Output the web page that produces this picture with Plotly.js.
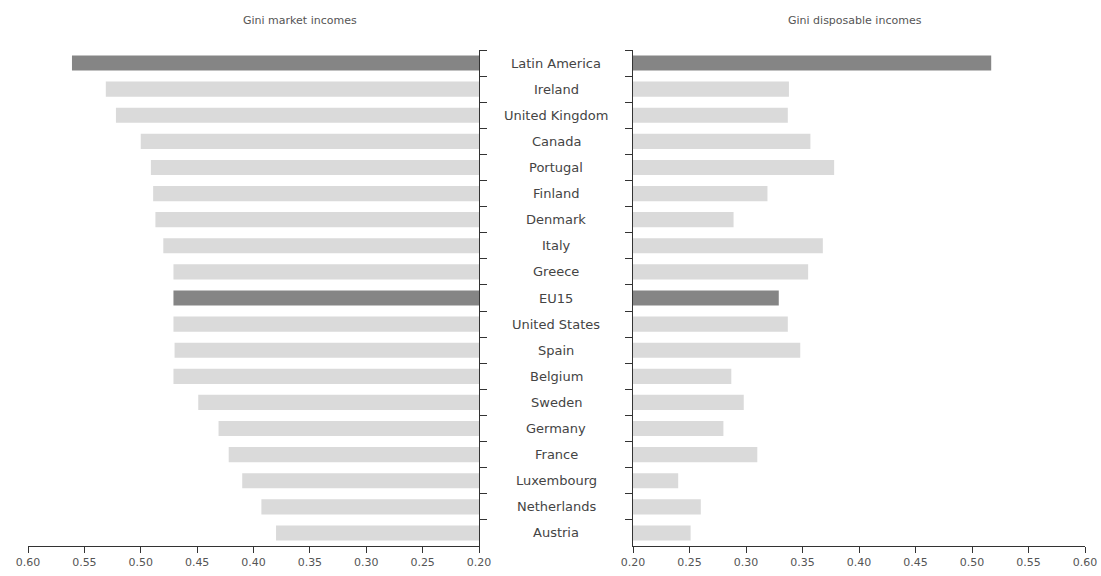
<!DOCTYPE html>
<html>
<head>
<meta charset="utf-8">
<script src="https://cdn.plot.ly/plotly-3.0.1.min.js"></script>
<style>html,body{margin:0;padding:0;background:#fff;}#chart{width:1101px;height:576px;}</style>
</head>
<body>
<div id="chart"></div>
<script>
var countries = ["Latin America","Ireland","United Kingdom","Canada","Portugal","Finland","Denmark","Italy","Greece","EU15","United States","Spain","Belgium","Sweden","Germany","France","Luxembourg","Netherlands","Austria"];
var giniMarket = [0.561,0.531,0.522,0.500,0.491,0.489,0.487,0.480,0.471,0.471,0.471,0.470,0.471,0.449,0.431,0.422,0.410,0.393,0.380];
var giniDisposable = [0.517,0.338,0.337,0.357,0.378,0.319,0.289,0.368,0.355,0.329,0.337,0.348,0.287,0.298,0.280,0.310,0.240,0.260,0.251];
var highlighted = ["Latin America","EU15"];
var xTickVals = [0.20,0.25,0.30,0.35,0.40,0.45,0.50,0.55,0.60];
var xTickText = ["0.20","0.25","0.30","0.35","0.40","0.45","0.50","0.55","0.60"];

var dark = "#858585", light = "#dadada";
var colors = countries.map(function(c){ return highlighted.indexOf(c) >= 0 ? dark : light; });

var traces = [
  {type:"bar", orientation:"h", y:countries, x:giniMarket.map(function(v){return v-0.2;}), base:0.2,
   marker:{color:colors}, xaxis:"x", yaxis:"y", hoverinfo:"x+y", width:0.58},
  {type:"bar", orientation:"h", y:countries, x:giniDisposable.map(function(v){return v-0.2;}), base:0.2,
   marker:{color:colors}, xaxis:"x2", yaxis:"y2", hoverinfo:"x+y", width:0.58}
];

var labelFont = {family:"DejaVu Sans, sans-serif", size:13, color:"#444"};
var annotations = countries.map(function(c){
  return {xref:"paper", yref:"y", x:556/1101, y:c, text:c, showarrow:false, font:labelFont, xanchor:"center", yanchor:"middle"};
});
annotations.push({xref:"paper", yref:"paper", x:300/1101, y:1, yshift:30, text:"Gini market incomes", showarrow:false,
  font:{family:"DejaVu Sans, sans-serif", size:11, color:"#555"}, xanchor:"center", yanchor:"middle"});
annotations.push({xref:"paper", yref:"paper", x:855/1101, y:1, yshift:30, text:"Gini disposable incomes", showarrow:false,
  font:{family:"DejaVu Sans, sans-serif", size:11, color:"#555"}, xanchor:"center", yanchor:"middle"});

var axisX = {
  range:[0.60,0.20], tickvals:xTickVals, ticktext:xTickText, showgrid:false, zeroline:false,
  showline:true, linecolor:"#333", linewidth:1, ticks:"outside", ticklen:6, tickcolor:"#333",
  tickfont:{family:"DejaVu Sans, sans-serif", size:11, color:"#555"}, fixedrange:true
};
var axisX2 = JSON.parse(JSON.stringify(axisX)); axisX2.range = [0.20,0.60];
axisX.domain = [28/1101, 479/1101];
axisX2.domain = [633/1101, 1085/1101];
axisX.anchor = "y"; axisX2.anchor = "y2";

var layout = {
  width:1101, height:576, paper_bgcolor:"#fff", plot_bgcolor:"#fff",
  margin:{l:0, r:0, t:50, b:30}, showlegend:false, barmode:"overlay",
  xaxis:axisX, xaxis2:axisX2,
  yaxis:{anchor:"x", side:"right", autorange:"reversed", type:"category", showticklabels:false, showgrid:false,
    showline:true, linecolor:"#333", linewidth:1, ticks:"outside", ticklen:7, tickcolor:"#333", tickson:"boundaries"},
  yaxis2:{anchor:"x2", side:"left", autorange:"reversed", type:"category", showticklabels:false, showgrid:false,
    showline:true, linecolor:"#333", linewidth:1, ticks:"outside", ticklen:7, tickcolor:"#333", tickson:"boundaries", matches:"y"},
  annotations:annotations
};
Plotly.newPlot("chart", traces, layout, {displayModeBar:false, staticPlot:true});
</script>
</body>
</html>
